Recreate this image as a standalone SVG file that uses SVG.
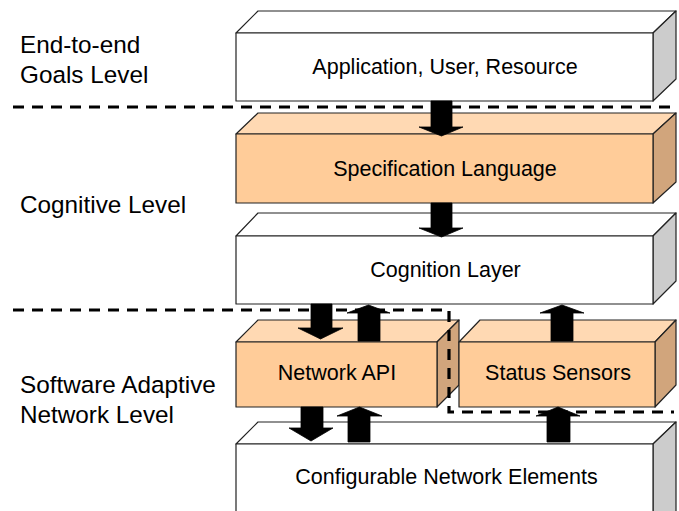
<svg xmlns="http://www.w3.org/2000/svg" width="679" height="511" viewBox="0 0 679 511">
<style>
.lbl{font-family:"Liberation Sans",Arial,sans-serif;font-size:24.3px;fill:#000}
.txt{font-family:"Liberation Sans",Arial,sans-serif;font-size:21.5px;fill:#000;text-anchor:middle}
.edge{stroke:#222;stroke-width:1.2;stroke-linejoin:round}
.wf{fill:#fff}
.wt{fill:#fff}
.ws{fill:#ccc}
.of{fill:#FFCC99}
.ot{fill:#FFD9B3}
.os{fill:#D1A57C}
.dash{fill:none;stroke:#000;stroke-width:3.2;stroke-dasharray:11 8}
.arr{fill:#000;stroke:#000;stroke-width:0.8;stroke-linejoin:miter}
</style>
<rect width="679" height="511" fill="#fff"/>
<g id="levels">
<text class="lbl" x="20" y="53">End-to-end</text>
<text class="lbl" x="20" y="83">Goals Level</text>
<text class="lbl" x="20" y="213">Cognitive Level</text>
<text class="lbl" x="20" y="393">Software Adaptive</text>
<text class="lbl" x="20" y="423">Network Level</text>
</g>
<g id="app">
<polygon class="wt edge" points="236,33 258,11 676,11 653,33"/>
<polygon class="ws edge" points="653,33 676,11 676,79 653,101"/>
<rect class="wf edge" x="236" y="33" width="417" height="68"/>
<text class="txt" x="445" y="74">Application, User, Resource</text>
</g>
<g id="spec">
<polygon class="ot edge" points="236,134 258,113 676,113 653,134"/>
<polygon class="os edge" points="653,134 676,113 676,182 653,203"/>
<rect class="of edge" x="236" y="134" width="417" height="69"/>
<text class="txt" x="445" y="176">Specification Language</text>
</g>
<g id="cognition">
<polygon class="wt edge" points="236,236 258,213 676,213 653,236"/>
<polygon class="ws edge" points="653,236 676,213 676,281 653,304"/>
<rect class="wf edge" x="236" y="236" width="417" height="68"/>
<text class="txt" x="445.5" y="277">Cognition Layer</text>
</g>
<g id="netapi">
<polygon class="ot edge" points="236,342 258,320 459,320 437,342"/>
<polygon class="os edge" points="437,342 459,320 459,385 437,407"/>
<rect class="of edge" x="236" y="342" width="201" height="65"/>
<text class="txt" x="337" y="380">Network API</text>
</g>
<g id="sensors">
<polygon class="ot edge" points="459,342 480,320 676,320 655,342"/>
<polygon class="os edge" points="655,342 676,320 676,385 655,407"/>
<rect class="of edge" x="459" y="342" width="196" height="65"/>
<text class="txt" x="558" y="380">Status Sensors</text>
</g>
<g id="config">
<polygon class="wt edge" points="236,444 258,422 676,422 653,444"/>
<polygon class="ws edge" points="653,444 676,422 676,520 653,520"/>
<rect class="wf edge" x="236" y="444" width="417" height="80"/>
<text class="txt" x="446.5" y="484">Configurable Network Elements</text>
</g>
<g id="boundaries">
<line class="dash" x1="13" y1="107" x2="676" y2="107"/>
<path class="dash" d="M13,310 H449 V412 H674"/>
</g>
<g id="connectors">
<polygon class="arr" points="431,101 452,101 452,127 463,127 441.5,136 419,127 431,127"/>
<polygon class="arr" points="431,203 452,203 452,228 463,228 441.5,237 419,228 431,228"/>
<polygon class="arr" points="311,304 332,304 332,328 343,328 320.5,339 298,328 311,328"/>
<polygon class="arr" points="358,341 380,341 380,313 390,313 368.5,305 347,313 358,313"/>
<polygon class="arr" points="551,341 573,341 573,313 584,313 562,305 540,313 551,313"/>
<polygon class="arr" points="301,407 323,407 323,428 333,428 311,441 289,428 301,428"/>
<polygon class="arr" points="348,442 370,442 370,416 382,416 359.5,407 337,416 348,416"/>
<polygon class="arr" points="547,442 570,442 570,416 580,416 558,407 536,416 547,416"/>
</g>
</svg>
